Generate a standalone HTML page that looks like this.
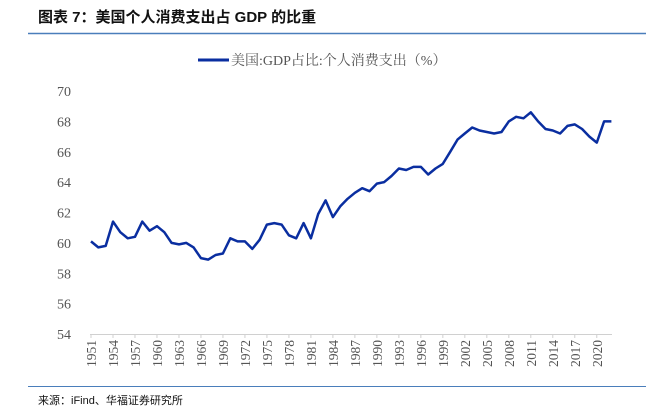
<!DOCTYPE html>
<html><head><meta charset="utf-8"><style>
body{margin:0;background:#fff;width:654px;height:409px;overflow:hidden;font-family:"Liberation Serif","Noto Serif CJK SC",serif;}
</style></head><body>
<svg width="654" height="409" xmlns="http://www.w3.org/2000/svg">
<text x="38" y="22" font-size="15" font-weight="bold" font-family="'Liberation Sans','Noto Sans CJK SC',sans-serif" fill="#111">图表 7：美国个人消费支出占 GDP 的比重</text>
<line x1="28" y1="33.5" x2="646" y2="33.5" stroke="#4a7ebb" stroke-width="1.5"/>
<g>
<line x1="198" y1="60" x2="229" y2="60" stroke="#0a2ea0" stroke-width="3"/>
<text x="231" y="65" font-size="14" fill="#555" font-family="'Liberation Serif','Noto Serif CJK SC',serif">美国:GDP占比:个人消费支出（%）</text>
</g>
<g id="yaxis"></g>
<g id="xaxis"></g>
<path id="series" fill="none" stroke="#0a2ea0" stroke-width="2.5" stroke-linejoin="round"/>
<line x1="28" y1="386.5" x2="646" y2="386.5" stroke="#4a7ebb" stroke-width="1"/>
<text x="38" y="404" font-size="11" fill="#111" font-family="'Liberation Sans','Noto Sans CJK SC',sans-serif">来源：iFind、华福证券研究所</text>
</svg>
<script>
const years=[];for(let y=1951;y<=2022;y++)years.push(y);
const values=[60.1,59.7,59.8,61.4,60.7,60.3,60.4,61.4,60.8,61.1,60.7,60.0,59.9,60.0,59.7,59.0,58.9,59.2,59.3,60.3,60.1,60.1,59.6,60.2,61.2,61.3,61.2,60.5,60.3,61.3,60.3,61.9,62.8,61.7,62.4,62.9,63.3,63.6,63.4,63.9,64.0,64.4,64.9,64.8,65.0,65.0,64.5,64.9,65.2,66.0,66.8,67.2,67.6,67.4,67.3,67.2,67.3,68.0,68.3,68.2,68.6,68.0,67.5,67.4,67.2,67.7,67.8,67.5,67.0,66.6,68.0,68.0];
const yTicks=[54,56,58,60,62,64,66,68,70];
const NS="http://www.w3.org/2000/svg";
const x0=91,step=7.33,yTop=91,yBot=334;
function xs(i){return x0+i*step;}
function ys(v){return yBot-(v-54)/(70-54)*(yBot-yTop);}
const ya=document.getElementById('yaxis');
yTicks.forEach(v=>{const t=document.createElementNS(NS,'text');


t.setAttribute('x',71);t.setAttribute('y',ys(v)+5);t.setAttribute('text-anchor','end');t.setAttribute('font-size','14');t.setAttribute('fill','#555');t.textContent=v;ya.appendChild(t);});
const xa=document.getElementById('xaxis');
const ax=document.createElementNS(NS,'line');


ax.setAttribute('x1',90);ax.setAttribute('x2',612);ax.setAttribute('y1',yBot+0.5);ax.setAttribute('y2',yBot+0.5);ax.setAttribute('stroke','#d0d0d0');xa.appendChild(ax);
years.forEach((y,i)=>{if((y-1951)%3)return;const x=xs(i);
const tk=document.createElementNS(NS,'line');


tk.setAttribute('x1',x);tk.setAttribute('x2',x);tk.setAttribute('y1',yBot);tk.setAttribute('y2',yBot+4);tk.setAttribute('stroke','#d0d0d0');xa.appendChild(tk);
const t=document.createElementNS(NS,'text');


t.setAttribute('transform','translate('+(x+5)+','+(yBot+6)+') rotate(-90)');t.setAttribute('text-anchor','end');t.setAttribute('font-size','13.5');t.setAttribute('fill','#555');t.textContent=y;xa.appendChild(t);});
document.getElementById('series').setAttribute('d',values.map((v,i)=>(i?'L':'M')+xs(i).toFixed(1)+','+ys(v).toFixed(1)).join(''));
</script>
</body></html>
